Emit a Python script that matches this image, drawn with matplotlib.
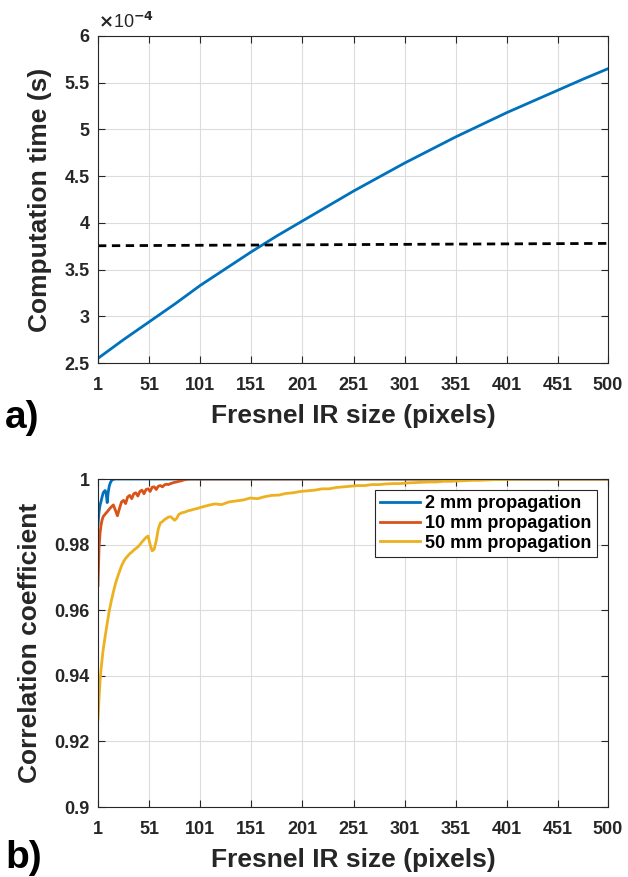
import numpy as np
from matplotlib import pyplot as plt

plt.rcParams['font.family'] = ['Liberation Sans', 'DejaVu Sans']
plt.rcParams['font.weight'] = 'bold'
plt.rcParams['axes.labelweight'] = 'bold'

#%% data
# panel a: computation time vs Fresnel IR size
ir_size = [1, 26, 51, 76, 101, 126, 151, 176, 201, 226, 251, 276, 301, 326, 351, 376, 401, 426, 451, 476, 500]
comp_time = [2.55e-4, 2.75e-4, 2.94e-4, 3.13e-4, 3.33e-4, 3.51e-4, 3.69e-4, 3.86e-4, 4.02e-4, 4.18e-4,
             4.34e-4, 4.49e-4, 4.64e-4, 4.78e-4, 4.92e-4, 5.05e-4, 5.18e-4, 5.30e-4, 5.42e-4, 5.54e-4, 5.65e-4]
ref_x = [1, 500]
ref_time = [3.755e-4, 3.78e-4]

# panel b: correlation coefficient
x_2mm = [1, 2, 3, 4, 5, 6, 7, 8, 9, 10, 11, 12, 13, 14, 15, 16, 18, 20, 25, 30, 500]
cc_2mm = [0.9861, 0.9900, 0.9920, 0.9932, 0.9945, 0.9957, 0.9962, 0.9965, 0.9955, 0.9928, 0.9960,
          0.9978, 0.9988, 0.9994, 0.9997, 0.9999, 1.0, 1.0, 1.0, 1.0, 1.0]

x_10mm = [1, 2, 3, 4, 5, 6, 8, 10, 12, 14, 16, 18, 20, 22, 24, 26, 28, 30, 32, 34, 36, 38, 40, 42, 44,
          46, 48, 50, 52, 54, 56, 58, 60, 62, 64, 66, 68, 70, 72, 74, 76, 78, 80, 82, 84, 86, 88, 90, 100, 500]
cc_10mm = [0.9675, 0.9790, 0.9835, 0.9860, 0.9875, 0.9885, 0.9893, 0.9900, 0.9908, 0.9915, 0.9921,
           0.9905, 0.9888, 0.9910, 0.9930, 0.9935, 0.9925, 0.9945, 0.9950, 0.9940, 0.9955, 0.9958,
           0.9948, 0.9962, 0.9966, 0.9955, 0.9968, 0.9970, 0.9962, 0.9975, 0.9976, 0.9968, 0.9978,
           0.9980, 0.9976, 0.9982, 0.9984, 0.9983, 0.9986, 0.9988, 0.9990, 0.9991, 0.9993, 0.9994,
           0.9996, 0.9998, 0.9999, 1.0, 1.0, 1.0]

x_50mm = [1, 2, 3, 4, 5, 6, 8, 10, 12, 14, 16, 18, 20, 22, 24, 26, 28, 30, 32, 34, 36, 38, 40, 42, 44,
          46, 48, 50, 52, 54, 56, 58, 60, 62, 64, 66, 68, 70, 72, 74, 76, 78, 80, 83, 86, 89, 92, 95, 98,
          101, 108, 115, 122, 129, 136, 143, 150, 157, 164, 171, 178, 185, 192, 199, 206, 213, 220, 227,
          234, 241, 248, 255, 262, 269, 276, 283, 290, 297, 304, 311, 318, 325, 332, 339, 346, 353, 360,
          367, 374, 381, 388, 395, 402, 410, 420, 500]
cc_50mm = [0.9268, 0.9330, 0.9385, 0.9420, 0.9450, 0.9478, 0.9520, 0.9560, 0.9598, 0.9628, 0.9655,
           0.9680, 0.9700, 0.9718, 0.9735, 0.9748, 0.9758, 0.9765, 0.9772, 0.9777, 0.9783, 0.9788,
           0.9793, 0.9800, 0.9808, 0.9815, 0.9822, 0.9826, 0.9800, 0.9781, 0.9786, 0.9812, 0.9848,
           0.9866, 0.9870, 0.9876, 0.9880, 0.9884, 0.9885, 0.9880, 0.9874, 0.9880, 0.9892, 0.9897,
           0.9899, 0.9903, 0.9905, 0.9908, 0.9910,
           0.9913, 0.9919, 0.9924, 0.9922, 0.9930, 0.9933, 0.9936, 0.9942, 0.9940, 0.9946, 0.9950,
           0.9951, 0.9956, 0.9958, 0.9962, 0.9964, 0.9966, 0.9970, 0.9970, 0.9974, 0.9976, 0.9978,
           0.9980, 0.9980, 0.9983, 0.9983, 0.9985, 0.9986, 0.9986, 0.9988, 0.9989, 0.9990, 0.9991,
           0.9991, 0.9993, 0.9993, 0.9994, 0.9995, 0.9996, 0.9996, 0.9997, 0.9998, 0.9998, 0.9999,
           0.99995, 1.0, 1.0]

xticks = [1, 51, 101, 151, 201, 251, 301, 351, 401, 451, 500]
yticks_a = [2.5e-4, 3e-4, 3.5e-4, 4e-4, 4.5e-4, 5e-4, 5.5e-4, 6e-4]
yticklabels_a = ['2.5', '3', '3.5', '4', '4.5', '5', '5.5', '6']
yticks_b = [0.9, 0.92, 0.94, 0.96, 0.98, 1.0]
yticklabels_b = ['0.9', '0.92', '0.94', '0.96', '0.98', '1']

c_blue = '#0072BD'
c_red = '#D95319'
c_yel = '#EDB120'
txt = '#262626'

#%% set up figure
fig = plt.figure(figsize=(6.28, 8.77), dpi=100)
W, H = 628, 877
left = 98/W
width = 510/W
ax1 = fig.add_axes([left, 1-363/H, width, 327/H])
ax2 = fig.add_axes([left, 1-807/H, width, 328/H])

for ax in [ax1, ax2]:
    ax.set_xlim([1, 500])
    ax.set_xticks(xticks)
    ax.set_xticklabels([str(t) for t in xticks], fontweight='bold')
    ax.grid(True, color='#dcdcdc', linewidth=0.8)
    ax.set_axisbelow(True)
    ax.tick_params(direction='in', top=True, right=True, length=5, width=0.8,
                   labelsize=13, labelcolor=txt, color=txt, pad=6)
    ax.tick_params(axis='x', pad=10)
    for s in ax.spines.values():
        s.set_color(txt)
        s.set_linewidth(0.8)
    ax.set_xlabel('Fresnel IR size (pixels)', fontsize=19, color=txt, labelpad=7)

#%% panel a
ax1.plot(ir_size, comp_time, color=c_blue, linewidth=2)
ax1.plot(ref_x, ref_time, '--', color='k', linewidth=2, dashes=(3, 2))
ax1.set_ylim([2.5e-4, 6e-4])
ax1.set_yticks(yticks_a)
ax1.set_yticklabels(yticklabels_a, fontweight='bold')
ax1.set_ylabel('Computation time (s)', fontsize=19, color=txt, labelpad=9)
ax1.text(0.0, 1.012, r'$\times$10$^{-4}$', transform=ax1.transAxes, fontsize=13,
         color=txt, ha='left', va='bottom', fontweight='normal')

#%% panel b
ax2.plot(x_2mm, cc_2mm, color=c_blue, linewidth=2, label='2 mm propagation')
ax2.plot(x_10mm, cc_10mm, color=c_red, linewidth=2, label='10 mm propagation')
ax2.plot(x_50mm, cc_50mm, color=c_yel, linewidth=2, label='50 mm propagation')
ax2.set_ylim([0.9, 1.0])
ax2.set_yticks(yticks_b)
ax2.set_yticklabels(yticklabels_b, fontweight='bold')
ax2.set_ylabel('Correlation coefficient', fontsize=19, color=txt, labelpad=9)
leg = ax2.legend(loc='upper right', fontsize=13, fancybox=False, framealpha=1,
                 edgecolor=txt, handlelength=2.2, handletextpad=0.3, borderpad=0.3,
                 labelspacing=0.15, borderaxespad=0.6)
leg.get_frame().set_linewidth(0.8)

fig.text(5/W, 1-428/H, 'a)', fontsize=28, fontweight='bold', color='k')
fig.text(5/W, 1-868/H, 'b)', fontsize=28, fontweight='bold', color='k')

plt.savefig('out.png', dpi=100)
